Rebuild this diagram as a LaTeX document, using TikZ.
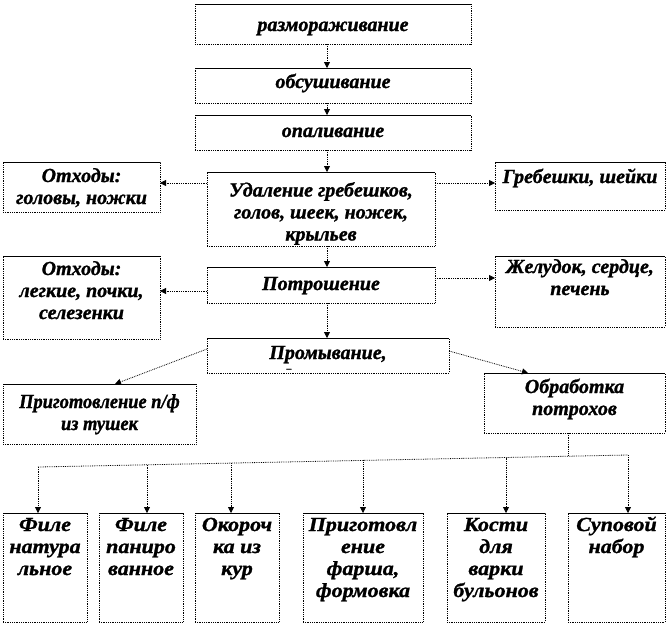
\documentclass[tikz,border=0pt]{standalone}
\usepackage{fontspec}
\setmainfont{Liberation Serif}
\newfontfamily\fmain[FakeBold=1.2]{Liberation Serif}
\newfontfamily\fwide[FakeStretch=1.1,FakeBold=1.2]{Liberation Serif}
\newfontfamily\fnarrow[FakeStretch=0.92,FakeBold=1.2]{Liberation Serif}
\usetikzlibrary{arrows.meta}
\tikzset{
  boxst/.style={draw=black, densely dotted, line width=0.8pt, inner sep=0pt, outer sep=0pt},
  conn/.style={densely dotted, line width=0.8pt},
  arr/.style={conn, -{Triangle[width=6pt,length=6pt]}},
  topedge/.style={solid, line width=0.9pt}
}
% [font], name, x1, y1, x2, y2, first baseline offset, text
\newcommand\mybox[8][\fmain]{%
  \node[boxst, anchor=north west] (#2) at (#3,#4)
    {\parbox[c][\dimexpr #6pt-#4pt\relax][t]{\dimexpr #5pt-#3pt\relax}%
      {\centering#1\fontsize{20}{22}\selectfont\bfseries\itshape
       \vspace*{\dimexpr #7pt-16pt\relax}\rule{0pt}{16pt}#8\par}};
  \draw[topedge] (#2.north west) -- (#2.north east);
}
\begin{document}
\begin{tikzpicture}[x=1pt,y=-1pt]
\useasboundingbox (0,0) rectangle (666,625);
\coordinate (spine) at (327,0);

\mybox{razm}{195}{4}{471}{44}{27}{размораживание}
\mybox{obsush}{195}{68}{471}{103}{20}{обсушивание}
\mybox{opal}{195}{115}{471}{150}{22}{опаливание}
\mybox{udal}{207}{172}{435}{246}{24.5}{Удаление гребешков,\\голов, шеек, ножек,\\крыльев}
\mybox{potr}{207}{267}{435}{303}{23}{Потрошение}
\mybox{prom}{207}{338}{449}{373}{21}{Промывание,\\[-9.5pt]{\fontsize{10}{10}\selectfont –\hspace*{78pt}}}

\mybox{otx1}{3}{162}{160}{212}{20}{Отходы:\\головы, ножки}
\mybox{greb}{495}{162}{665}{210}{21}{Гребешки, шейки}
\mybox{otx2}{3}{256}{160}{339}{19}{Отходы:\\легкие, почки,\\селезенки}
\mybox{zhel}{495}{256}{665}{327}{17}{Желудок, сердце,\\печень}

\mybox[\fnarrow]{prig}{3}{384}{196}{444}{24}{Приготовление п/ф\\из тушек}
\mybox{obr}{484}{373}{665}{433}{20}{Обработка\\потрохов}

\mybox[\fwide]{b1}{3}{513}{87}{622}{18}{Филе\\натура\\льное}
\mybox[\fwide]{b2}{99}{513}{183}{622}{18}{Филе\\паниро\\ванное}
\mybox[\fwide]{b3}{195}{513}{279}{622}{18}{Окороч\\ка из\\кур}
\mybox[\fwide]{b4}{303}{513}{423}{622}{18}{Приготовл\\ение\\фарша,\\формовка}
\mybox[\fwide]{b5}{447}{513}{545}{622}{18}{Кости\\для\\варки\\бульонов}
\mybox[\fwide]{b6}{568}{513}{665}{622}{18}{Суповой\\набор}

% main column
\draw[arr] (razm.south -| spine) -- (obsush.north -| spine);
\draw[arr] (obsush.south -| spine) -- (opal.north -| spine);
\draw[arr] (opal.south -| spine) -- (udal.north -| spine);
\draw[arr] (udal.south -| spine) -- (potr.north -| spine);
\draw[arr] (potr.south -| spine) -- (prom.north -| spine);

% side branches
\draw[arr] (udal.west |- 0,183) -- (otx1.east |- 0,183);
\draw[arr] (udal.east |- 0,183) -- (greb.west |- 0,183);
\draw[arr] (potr.west |- 0,291) -- (otx2.east |- 0,291);
\draw[arr] (potr.east |- 0,278) -- (zhel.west |- 0,278);

% washing splits
\draw[arr] (prom.west |- 0,349) -- (prig.north -| 115,0);
\draw[arr] (prom.east |- 0,351) -- (obr.north -| 528,0);

% distribution line
\coordinate (d1) at (38,467);
\coordinate (d2) at (147,464.8);
\coordinate (d3) at (231,463.1);
\coordinate (d4) at (363,460.4);
\coordinate (d5) at (506,457.5);
\coordinate (dj) at (568,456.2);
\coordinate (d6) at (628,455);
\draw[conn] (obr.south -| dj) -- (dj);
\draw[conn] (d1) -- (d6);
\draw[arr] (d1) -- (b1.north -| d1);
\draw[arr] (d2) -- (b2.north -| d2);
\draw[arr] (d3) -- (b3.north -| d3);
\draw[arr] (d4) -- (b4.north -| d4);
\draw[arr] (d5) -- (b5.north -| d5);
\draw[arr] (d6) -- (b6.north -| d6);
\end{tikzpicture}
\end{document}
